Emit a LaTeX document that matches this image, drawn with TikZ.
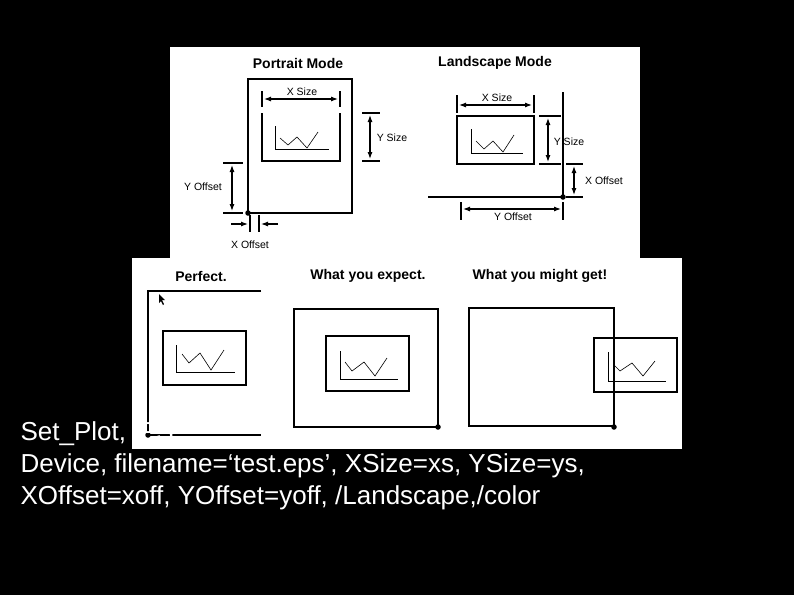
\documentclass[tikz,border=0pt]{standalone}
\usepackage{fontspec}
\setmainfont{Liberation Sans}
\usetikzlibrary{arrows.meta}
\begin{document}
\begin{tikzpicture}[x=1pt,y=-1pt,line width=1.1pt,
  lbl/.style={font=\fontsize{10.5}{12}\selectfont,inner sep=0pt},
  ttl/.style={font=\bfseries\fontsize{14}{16}\selectfont,inner sep=0pt},
  dim/.style={-{Latex[length=7pt,width=5pt]},line width=1.1pt},
  thin/.style={line width=0.6pt},
  dot/.style={circle,fill,inner sep=0pt,minimum size=5.5pt}]
\fill[black] (0,0) rectangle (794,595);
\useasboundingbox (0,0) rectangle (794,595);
\fill[white] (170,47) rectangle (640,258);
\fill[white] (132,258) rectangle (682,449);
% Portrait
\node[ttl] (tp) at (298,63) {Portrait Mode};
\draw (248,79) rectangle (352,213);
\node[dot] (pd) at (248,213) {};
\draw (262,113) -- (262,161) -- (340,161) -- (340,113);
\draw (262,91) -- (262,107) (340,91) -- (340,107);
\draw[dim] (301,99) -- (264,99); \draw[dim] (301,99) -- (338,99);
\node[lbl] (pxs) at (302,92) {X Size};
\draw[thin] (275,126) -- (275,149) -- (329,149);
\draw[thin] (280,138) -- (288,145) -- (297,137) -- (307,148) -- (318,132);
\draw (362,113) -- (380,113) (362,161) -- (380,161);
\draw[dim] (370,137) -- (370,115); \draw[dim] (370,137) -- (370,159);
\node[lbl] (pys) at (392,138) {Y Size};
\draw (223,163) -- (243,163) (223,213) -- (243,213);
\draw[dim] (232,188) -- (232,165); \draw[dim] (232,188) -- (232,211);
\node[lbl] (pyo) at (203,187) {Y Offset};
\draw (250,215) -- (250,232) (259,215) -- (259,232);
\draw[dim] (231,224) -- (248,224); \draw[dim] (278,224) -- (261,224);
\node[lbl] (pxo) at (250,245) {X Offset};
% Landscape
\node[ttl] (tl) at (495,63) {Landscape Mode};
\draw (428,197) -- (563,197) (563,92) -- (563,197);
\node[dot] (ld) at (563,197) {};
\draw (457,116) rectangle (534,164);
\draw[thin] (471,129) -- (471,153) -- (523,153);
\draw[thin] (476,141) -- (484,149) -- (493,141) -- (503,152) -- (514,135);
\draw (457,95) -- (457,113) (534,95) -- (534,113);
\draw[dim] (495,105) -- (459,105); \draw[dim] (495,105) -- (532,105);
\node[lbl] (lxs) at (497,98) {X Size};
\draw (539,116) -- (561,116) (539,164) -- (561,164);
\draw[dim] (548,140) -- (548,118); \draw[dim] (548,140) -- (548,162);
\node[lbl] (lys) at (569,142) {Y Size};
\draw (566,164) -- (583,164);
\draw (566,197) -- (583,197);
\draw[dim] (574,180) -- (574,166); \draw[dim] (574,180) -- (574,195);
\node[lbl] (lxo) at (604,181) {X Offset};
\draw (461,202) -- (461,220) (563,202) -- (563,220);
\draw[dim] (512,209) -- (463,209); \draw[dim] (512,209) -- (561,209);
\node[lbl] (lyo) at (513,217) {Y Offset};
% Bottom
\node[ttl] (t1) at (201,276) {Perfect.};
\node[ttl] (t2) at (368,276) {What you expect.};
\node[ttl] (t3) at (540,276) {What you might get!};
\draw (261,291) -- (148,291) -- (148,435) -- (261,435);
\node[dot] (bd1) at (148,435) {};
\fill (159,294) -- (159,303) -- (161,301) -- (163,305) -- (164,304) -- (162,300) -- (165,300) -- cycle;
\draw (163,331) rectangle (246,385);
\draw[thin] (176,345) -- (176,372) -- (235,372);
\draw[thin] (182,354) -- (189,363) -- (200,353) -- (211,370) -- (224,350);
\draw (294,309) rectangle (438,427);
\node[dot] (bd2) at (438,427) {};
\draw (326,336) rectangle (409,391);
\draw[thin] (340,351) -- (340,379) -- (398,379);
\draw[thin] (345,362) -- (352,371) -- (364,362) -- (375,376) -- (387,358);
\draw (469,308) rectangle (614,426);
\node[dot] (bd3) at (614,427) {};
\draw (594,338) rectangle (677,392);
\draw[thin] (608,352) -- (608,381) -- (666,381);
\draw[thin] (614,365) -- (620,371) -- (632,363) -- (643,376) -- (655,361);
% Text
\node[anchor=base west,inner sep=0pt,text=white,font=\fontsize{26}{32}\selectfont,align=left] (code) at (20,504)
 {Set\_Plot, ‘PS’\\Device, filename=‘test.eps’, XSize=xs, YSize=ys,\\XOffset=xoff, YOffset=yoff, /Landscape,/color};
\end{tikzpicture}
\end{document}
